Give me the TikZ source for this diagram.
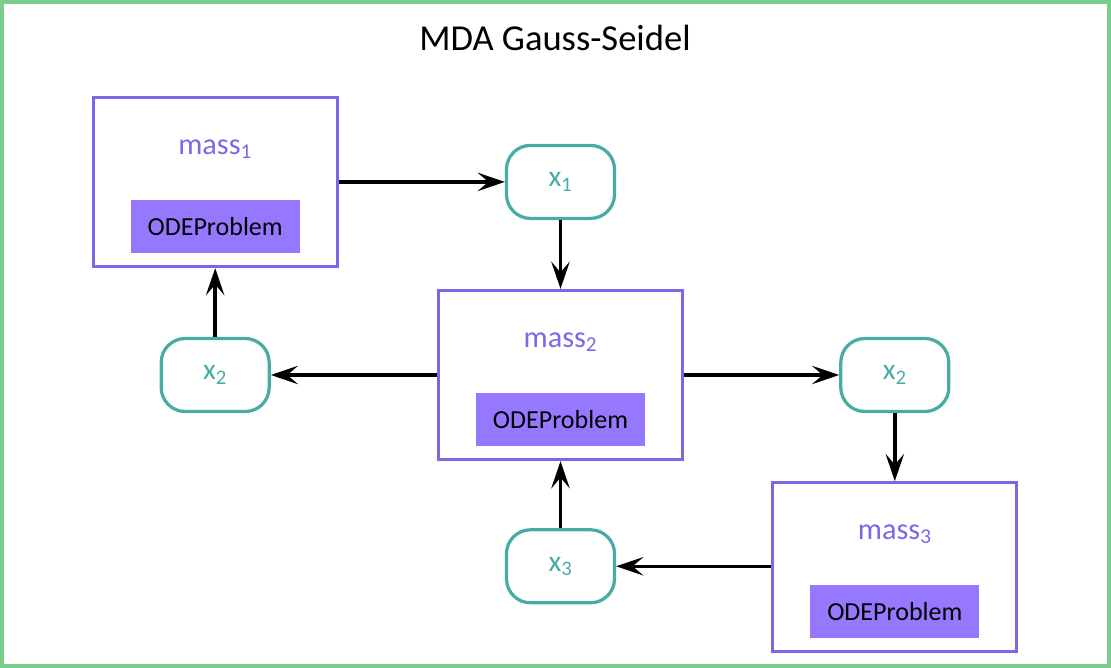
\documentclass[tikz,border=0pt]{standalone}
\usepackage{fontspec}
\setmainfont{Carlito}
\usetikzlibrary{arrows.meta, positioning}

\definecolor{framegreen}{RGB}{122,206,140}
\definecolor{massblue}{RGB}{123,104,232}
\definecolor{odefill}{RGB}{150,120,255}
\definecolor{varteal}{RGB}{72,172,164}

\begin{document}
\begin{tikzpicture}[
        x=0.025cm, y=-0.025cm,
        massbox/.style={
            draw=massblue,
            line width=2.3pt,
            minimum width=6.1cm,
            minimum height=4.225cm
        },
        odebox/.style={
            fill=odefill,
            minimum width=4.225cm,
            minimum height=1.325cm,
            inner sep=0pt,
            font=\fontsize{18.5}{22}\selectfont
        },
        masslbl/.style={
            text=massblue,
            font=\fontsize{21.5}{25}\selectfont
        },
        varbox/.style={
            draw=varteal,
            line width=2.3pt,
            rounded corners=0.6cm,
            minimum width=2.7cm,
            minimum height=1.825cm,
            text=varteal,
            font=\fontsize{21}{25}\selectfont
        },
        flow/.style={
            -{Stealth[length=0.68cm, width=0.46cm, inset=0.27cm]},
            line width=2.4pt
        }
    ]
        % Rahmen und Titel
        \useasboundingbox (0,0) rectangle (1111,668);
        \draw[framegreen, line width=2.3pt] (2,2) rectangle (1109,666);
        \node[font=\fontsize{26}{30}\selectfont] (title) at (555,38) {MDA Gauss-Seidel};

        % mittlere Masse
        \node[massbox] (m2) at (560.5,375) {};
        \node[masslbl] (m2lbl) at ([yshift=-1.33cm]m2.north) {mass\textsubscript{2}};
        \node[odebox, below=2.6cm of m2.north] (ode2) {ODEProblem};

        % Kopplungsgrößen
        \node[varbox, above=1.72cm of m2] (x1) {x\textsubscript{1}};
        \node[varbox, left=4.15cm of m2] (x2a) {x\textsubscript{2}};
        \node[varbox, right=3.875cm of m2] (x2b) {x\textsubscript{2}};
        \node[varbox, below=1.675cm of m2] (x3) {x\textsubscript{3}};

        % äußere Massen
        \node[massbox, left=4.15cm of x1] (m1) {};
        \node[masslbl] (m1lbl) at ([yshift=-1.33cm]m1.north) {mass\textsubscript{1}};
        \node[odebox, below=2.6cm of m1.north] (ode1) {ODEProblem};

        \node[massbox, below=1.7cm of x2b] (m3) {};
        \node[masslbl] (m3lbl) at ([yshift=-1.33cm]m3.north) {mass\textsubscript{3}};
        \node[odebox, below=2.6cm of m3.north] (ode3) {ODEProblem};

        % Datenfluss
        \draw[flow] (m1) -- (x1);
        \draw[flow] (x1) -- (m2);
        \draw[flow] (m2) -- (x2a);
        \draw[flow] (x2a) -- (m1);
        \draw[flow] (m2) -- (x2b);
        \draw[flow] (x2b) -- (m3);
        \draw[flow] (m3.west |- x3) -- (x3);
        \draw[flow] (x3) -- (m2);
    \end{tikzpicture}
\end{document}
